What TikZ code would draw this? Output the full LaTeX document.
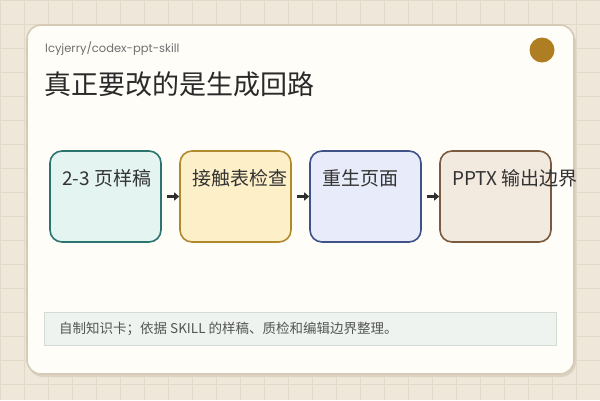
\documentclass[tikz,border=0pt]{standalone}
\usepackage{fontspec}
\setmainfont{Noto Sans CJK SC}
\newfontfamily\subf{Poppins}
\usetikzlibrary{arrows.meta}
\definecolor{bgc}{HTML}{EFE8DA}
\definecolor{gridc}{HTML}{E2D9C8}
\definecolor{shadowc}{HTML}{DCD2C2}
\definecolor{cardline}{HTML}{D6CAB7}
\definecolor{cardfill}{HTML}{FFFDF8}
\definecolor{dotc}{HTML}{B07E22}
\definecolor{subc}{HTML}{707070}
\definecolor{titlec}{HTML}{2A2A2A}
\definecolor{txtc}{HTML}{333333}
\definecolor{aline}{HTML}{2F2F2F}
\definecolor{l1}{HTML}{2B7470}\definecolor{f1}{HTML}{E4F4F1}
\definecolor{l2}{HTML}{B08A2C}\definecolor{f2}{HTML}{FDF0C9}
\definecolor{l3}{HTML}{405388}\definecolor{f3}{HTML}{E8ECFA}
\definecolor{l4}{HTML}{7A5B3F}\definecolor{f4}{HTML}{F2E9DF}
\definecolor{footl}{HTML}{D3DBD5}\definecolor{footf}{HTML}{EEF3EF}
\definecolor{footc}{HTML}{555555}
\tikzset{
  stepbox/.style={draw, line width=1.6pt, rounded corners=12pt, minimum width=111pt, minimum height=91pt, inner sep=0pt},
  lab/.style={anchor=west, inner sep=0pt, text=txtc, font=\fontsize{19}{23}\selectfont},
  arr/.style={line width=2.8pt, draw=aline, -{Triangle[length=5pt,width=8pt]}, shorten <=5pt},
}
\begin{document}
\begin{tikzpicture}[x=1pt,y=-1pt]
\useasboundingbox (0,0) rectangle (600,400);
\fill[bgc] (0,0) rectangle (600,400);
\foreach \i in {0,24,...,600} \draw[gridc, line width=1pt] (\i,0) -- (\i,400);
\foreach \j in {0,24,...,400} \draw[gridc, line width=1pt] (0,\j) -- (600,\j);
\fill[shadowc, rounded corners=15pt] (28,27) rectangle (576,377);
\draw[cardline, fill=cardfill, line width=1.6pt, rounded corners=14pt] (27,25) rectangle (574,374);
\node[circle, fill=dotc, minimum size=25pt, inner sep=0pt] (dot) at (542,50) {};
\node[anchor=west, inner sep=0pt, text=subc, font=\subf\fontsize{11.5}{13}\selectfont] (sub) at (45,49) {lcyjerry/codex-ppt-skill};
\node[anchor=west, inner sep=0pt, text=titlec, font=\fontsize{27}{31}\selectfont] (title) at (44,84) {真正要改的是生成回路};
\node[stepbox, draw=l1, fill=f1] (b1) at (105.5,196.5) {};
\node[stepbox, draw=l2, fill=f2] (b2) at (235.5,196.5) {};
\node[stepbox, draw=l3, fill=f3] (b3) at (365.5,196.5) {};
\node[stepbox, draw=l4, fill=f4] (b4) at (495.5,196.5) {};
\node[lab] (t1) at (62,178) {2-3 页样稿};
\node[lab] (t2) at (192,178) {接触表检查};
\node[lab] (t3) at (322,178) {重生页面};
\node[lab] (t4) at (452,178) {PPTX 输出边界};
\draw[arr] (b1) -- (b2);
\draw[arr] (b2) -- (b3);
\draw[arr] (b3) -- (b4);
\node[draw=footl, fill=footf, line width=1pt, minimum width=512pt, minimum height=33pt, inner sep=0pt] (foot) at (300.5,328.5) {};
\node[anchor=west, inner sep=0pt, text=footc, font=\fontsize{13.5}{15}\selectfont] (ft) at (59,329) {自制知识卡；依据 SKILL 的样稿、质检和编辑边界整理。};
\end{tikzpicture}
\end{document}
